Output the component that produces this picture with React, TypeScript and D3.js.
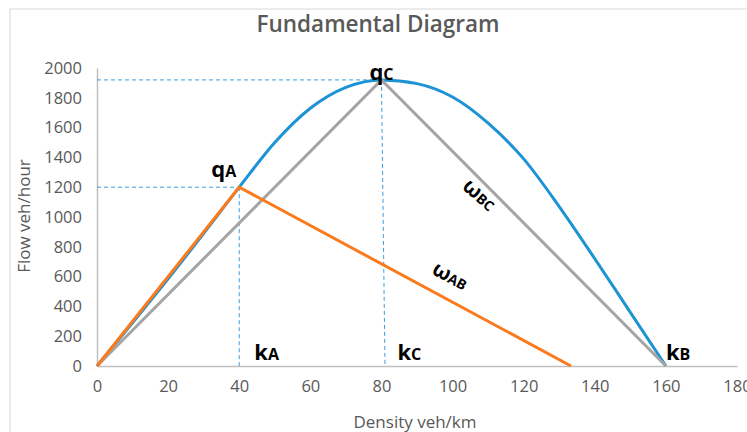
import React, { useEffect, useRef } from "react";
import * as d3 from "d3";

// fundamental diagram values (density veh/km, flow veh/hour)
const curveK = [0, 10, 20, 30, 40, 50, 60, 70, 80, 90, 100, 110, 120, 130, 140, 150, 160];
const curveQ = [0, 290, 585, 890, 1200, 1500, 1730, 1870, 1920, 1895, 1805, 1630, 1390, 1070, 720, 360, 0];
const triK = [0, 80, 160];
const triQ = [0, 1920, 0];
const orangeK = [0, 40, 133.3];
const orangeQ = [0, 1200, 0];
const xTicks = [0, 20, 40, 60, 80, 100, 120, 140, 160, 180];
const yTicks = [0, 200, 400, 600, 800, 1000, 1200, 1400, 1600, 1800, 2000];
// dashed guides: [k1, q1, k2, q2]
const guides = [
  [0, 1920, 80, 1920],
  [80, 1920, 81, 0],
  [0, 1200, 40, 1200],
  [40, 1200, 40, 0],
];

const W = 747;
const H = 432;
const margin = { top: 68, right: 10, bottom: 66, left: 97 };
const FONT = "'Open Sans', 'Noto Sans', sans-serif";
const GREY = "#595959";

export default function App() {
  const xRef = useRef<SVGGElement>(null);
  const yRef = useRef<SVGGElement>(null);

  const x = d3.scaleLinear().domain([0, 180]).range([margin.left, 737]);
  const y = d3.scaleLinear().domain([0, 2000]).range([H - margin.bottom, margin.top]);

  useEffect(() => {
    const gx = d3.select(xRef.current!);
    gx.call(d3.axisBottom(x).tickValues(xTicks).tickFormat(d3.format("d")).tickSize(0).tickPadding(14) as any);
    gx.select(".domain").attr("stroke", "#bfbfbf").attr("stroke-width", 1.5);
    gx.selectAll("text").attr("fill", GREY).attr("font-size", 16.5).attr("font-family", FONT);

    const gy = d3.select(yRef.current!);
    gy.call(d3.axisLeft(y).tickValues(yTicks).tickFormat(d3.format("d")).tickSize(0).tickPadding(15) as any);
    gy.select(".domain").attr("stroke", "#bfbfbf").attr("stroke-width", 1.5);
    gy.selectAll("text").attr("fill", GREY).attr("font-size", 16.5).attr("font-family", FONT);
  }, []);

  const pts = (ks: number[], qs: number[]) => ks.map((k, i) => [k, qs[i]] as [number, number]);
  const straight = d3.line<[number, number]>().x(d => x(d[0])).y(d => y(d[1]));
  const smooth = d3.line<[number, number]>().x(d => x(d[0])).y(d => y(d[1])).curve(d3.curveMonotoneX);

  // angles of the wave lines for the omega labels
  const angBC = (Math.atan2(y(0) - y(1920), x(160) - x(80)) * 180) / Math.PI;
  const angAB = (Math.atan2(y(0) - y(1200), x(133.3) - x(40)) * 180) / Math.PI;

  const lab = { fontFamily: FONT, fontWeight: 700, fill: "#000" } as const;

  return (
    <div style={{ position: "fixed", left: 0, top: 0 }}>
      <svg width={W} height={H} style={{ display: "block", background: "#fff" }}>
        <rect x={10} y={9} width={W} height={H} fill="none" stroke="#d9d9d9" strokeWidth={1} />
        <text x={378} y={32} textAnchor="middle" fontFamily={FONT} fontSize={22.5} fontWeight={600} fill={GREY}>
          Fundamental Diagram
        </text>

        <g ref={xRef} transform={`translate(0, ${y(0)})`} />
        <g ref={yRef} transform={`translate(${x(0)}, 0)`} />

        {guides.map((g, i) => (
          <line key={i} x1={x(g[0])} y1={y(g[1])} x2={x(g[2])} y2={y(g[3])}
            stroke="#3a9de0" strokeWidth={1} strokeDasharray="4,3" />
        ))}

        <path d={smooth(pts(curveK, curveQ))!} fill="none" stroke="#1d93d6" strokeWidth={3} />
        <path d={straight(pts(triK, triQ))!} fill="none" stroke="#a5a5a5" strokeWidth={3} />
        <path d={straight(pts(orangeK, orangeQ))!} fill="none" stroke="#fb7a1e" strokeWidth={3} />

        <text x={x(80)} y={80} textAnchor="middle" fontSize={22} {...lab}>
          q<tspan fontSize={16}>C</tspan>
        </text>
        <text x={x(40) - 3} y={177} textAnchor="end" fontSize={22} {...lab}>
          q<tspan fontSize={16}>A</tspan>
        </text>
        <text x={x(40) + 15} y={360} fontSize={22} {...lab}>
          k<tspan fontSize={16}>A</tspan>
        </text>
        <text x={x(80) + 16} y={360} fontSize={22} {...lab}>
          k<tspan fontSize={16}>C</tspan>
        </text>
        <text x={x(160)} y={360} fontSize={22} {...lab}>
          k<tspan fontSize={16}>B</tspan>
        </text>
        <text transform={`translate(475, 200) rotate(${angBC - 4})`} textAnchor="middle" fontSize={21} {...lab}>
          ω<tspan fontSize={14}>BC</tspan>
        </text>
        <text transform={`translate(447, 282) rotate(${angAB})`} textAnchor="middle" fontSize={21} {...lab}>
          ω<tspan fontSize={14}>AB</tspan>
        </text>

        <text x={415} y={428} textAnchor="middle" fontFamily={FONT} fontSize={17} fill={GREY}>
          Density veh/km
        </text>
        <text transform="translate(30, 216) rotate(-90)" textAnchor="middle" fontFamily={FONT} fontSize={17} fill={GREY}>
          Flow veh/hour
        </text>
      </svg>
    </div>
  );
}
